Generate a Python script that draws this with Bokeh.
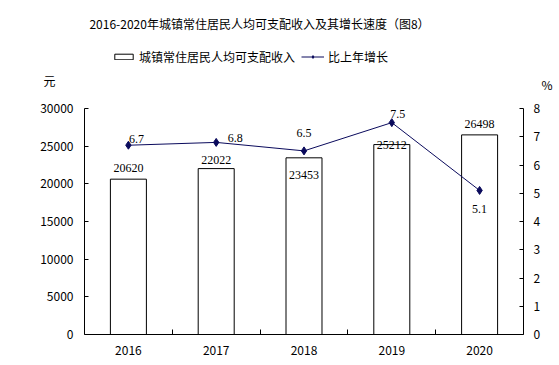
from bokeh.plotting import figure
from bokeh.layouts import column
from bokeh.models import (Range1d, LinearAxis, FixedTicker, ColumnDataSource, LabelSet,
                          Label, Legend, LegendItem)
from bokeh.embed import file_html
from bokeh.resources import INLINE

years = ["2016", "2017", "2018", "2019", "2020"]
income = [20620, 22022, 23453, 25212, 26498]
growth = [6.7, 6.8, 6.5, 7.5, 5.1]
left_ticks = [0, 5000, 10000, 15000, 20000, 25000, 30000]
right_ticks = [0, 1, 2, 3, 4, 5, 6, 7, 8]
title_text = "2016-2020年城镇常住居民人均可支配收入及其增长速度（图8）"
bar_name = "城镇常住居民人均可支配收入"
line_name = "比上年增长"
left_unit = "元"
right_unit = "%"

# label placement (pixels)
bar_label_dy = [11, 9, -17, 0, 11]
line_label_dx = [8, 19, 0, 6, 0]
line_label_dy = [6, 4, 18, 9, -19]

FONT = "'Noto Sans CJK SC'"
LINE_COLOR = "#0a0a5c"
W, H = 558, 364
TOP_H = 96
FL, FR = 84, 523   # frame left / right in page pixels

xs = [i + 0.5 for i in range(len(years))]

# ---------- header figure (title, legend, units) ----------
top = figure(width=W, height=TOP_H, output_backend="svg", toolbar_location=None,
             x_range=Range1d(FL, FR), y_range=Range1d(0, TOP_H),
             x_axis_type=None, y_axis_type=None,
             min_border_left=FL, min_border_right=W - FR, min_border_top=0, min_border_bottom=0)
top.outline_line_color = None
top.xgrid.visible = False
top.ygrid.visible = False

top.add_layout(Label(x=259, y=TOP_H - 23, text=title_text, text_align="center",
                     text_baseline="middle", text_font=FONT, text_font_size="12px",
                     text_color="black"))

# unit captions as single tick labels of unlined axes
ua = LinearAxis(ticker=FixedTicker(ticks=[TOP_H - 80]),
                major_label_overrides={TOP_H - 80: left_unit}, major_label_standoff=23)
ub = LinearAxis(ticker=FixedTicker(ticks=[TOP_H - 84]),
                major_label_overrides={TOP_H - 84: right_unit}, major_label_standoff=12)
for ax in (ua, ub):
    ax.axis_line_color = None
    ax.major_tick_line_color = None
    ax.minor_tick_line_color = None
    ax.major_label_text_font = FONT
    ax.major_label_text_font_size = "12px"
    ax.major_label_text_color = "black"
top.add_layout(ua, "left")
top.add_layout(ub, "right")

swatch = ColumnDataSource(dict(x=[float("nan")], y=[float("nan")]))
lb = top.vbar(x="x", top="y", width=1, source=swatch, fill_color="white",
              line_color="black", line_width=1)
ll = top.line(x="x", y="y", source=swatch, line_color=LINE_COLOR, line_width=1)
lm = top.scatter(x="x", y="y", source=swatch, marker="diamond", size=8,
                 fill_color=LINE_COLOR, line_color=LINE_COLOR)
legend = Legend(items=[LegendItem(label=bar_name, renderers=[lb]),
                       LegendItem(label=line_name, renderers=[ll, lm])],
                location=(112 - FL, TOP_H - 58 - 7), orientation="horizontal",
                padding=0, margin=0, spacing=6, label_standoff=4,
                glyph_width=23, glyph_height=7, label_height=14,
                label_text_font=FONT, label_text_font_size="12px",
                label_text_color="black", border_line_color=None,
                background_fill_alpha=0)
top.add_layout(legend, "center")

# ---------- main chart ----------
p = figure(width=W, height=H - TOP_H, output_backend="svg", toolbar_location=None,
           x_range=Range1d(0, len(years)), y_range=Range1d(0, 30000),
           min_border_left=FL, min_border_right=W - FR,
           min_border_top=108 - TOP_H, min_border_bottom=H - 334)
p.extra_y_ranges = {"pct": Range1d(0, 8)}
p.outline_line_color = None
p.xgrid.visible = False
p.ygrid.visible = False

src = ColumnDataSource(dict(x=xs, income=income, growth=growth,
                            inc_txt=[str(v) for v in income],
                            gr_txt=[str(v) for v in growth],
                            bdy=bar_label_dy, ldx=line_label_dx, ldy=line_label_dy))

p.vbar(x="x", top="income", width=0.41, source=src, fill_color="white",
       line_color="black", line_width=1)
p.line(x="x", y="growth", source=src, y_range_name="pct", line_color=LINE_COLOR, line_width=1)
p.scatter(x="x", y="growth", source=src, y_range_name="pct", marker="diamond", size=8,
          fill_color=LINE_COLOR, line_color=LINE_COLOR)

xa = p.xaxis[0]
xa.ticker = FixedTicker(ticks=xs, minor_ticks=list(range(1, len(years))))
xa.major_label_overrides = {x: y for x, y in zip(xs, years)}
xa.major_tick_in = 0
xa.major_tick_out = 0
xa.minor_tick_in = 5
xa.minor_tick_out = 0
xa.major_label_standoff = 11
ya = p.yaxis[0]
ya.ticker = FixedTicker(ticks=left_ticks)
ya.major_tick_in = 4
ya.major_tick_out = 0
ya.major_label_standoff = 11
ra = LinearAxis(y_range_name="pct", ticker=FixedTicker(ticks=right_ticks))
ra.major_tick_in = 4
ra.major_tick_out = 0
ra.major_label_standoff = 10
p.add_layout(ra, "right")
for ax in (xa, ya, ra):
    ax.axis_line_color = "black"
    ax.major_tick_line_color = "black"
    ax.minor_tick_line_color = "black" if ax is xa else None
    ax.major_label_text_font = FONT
    ax.major_label_text_font_size = "12px"
    ax.major_label_text_color = "black"

p.add_layout(LabelSet(x="x", y="income", text="inc_txt", source=src, y_offset="bdy",
                      text_align="center", text_baseline="middle", text_font=FONT,
                      text_font_size="12px", text_color="black"))
p.add_layout(LabelSet(x="x", y="growth", text="gr_txt", source=src, y_range_name="pct",
                      x_offset="ldx", y_offset="ldy",
                      text_align="center", text_baseline="middle", text_font=FONT,
                      text_font_size="12px", text_color="black"))

layout = column(top, p, spacing=0)
open("out.html", "w").write(file_html(layout, INLINE))
